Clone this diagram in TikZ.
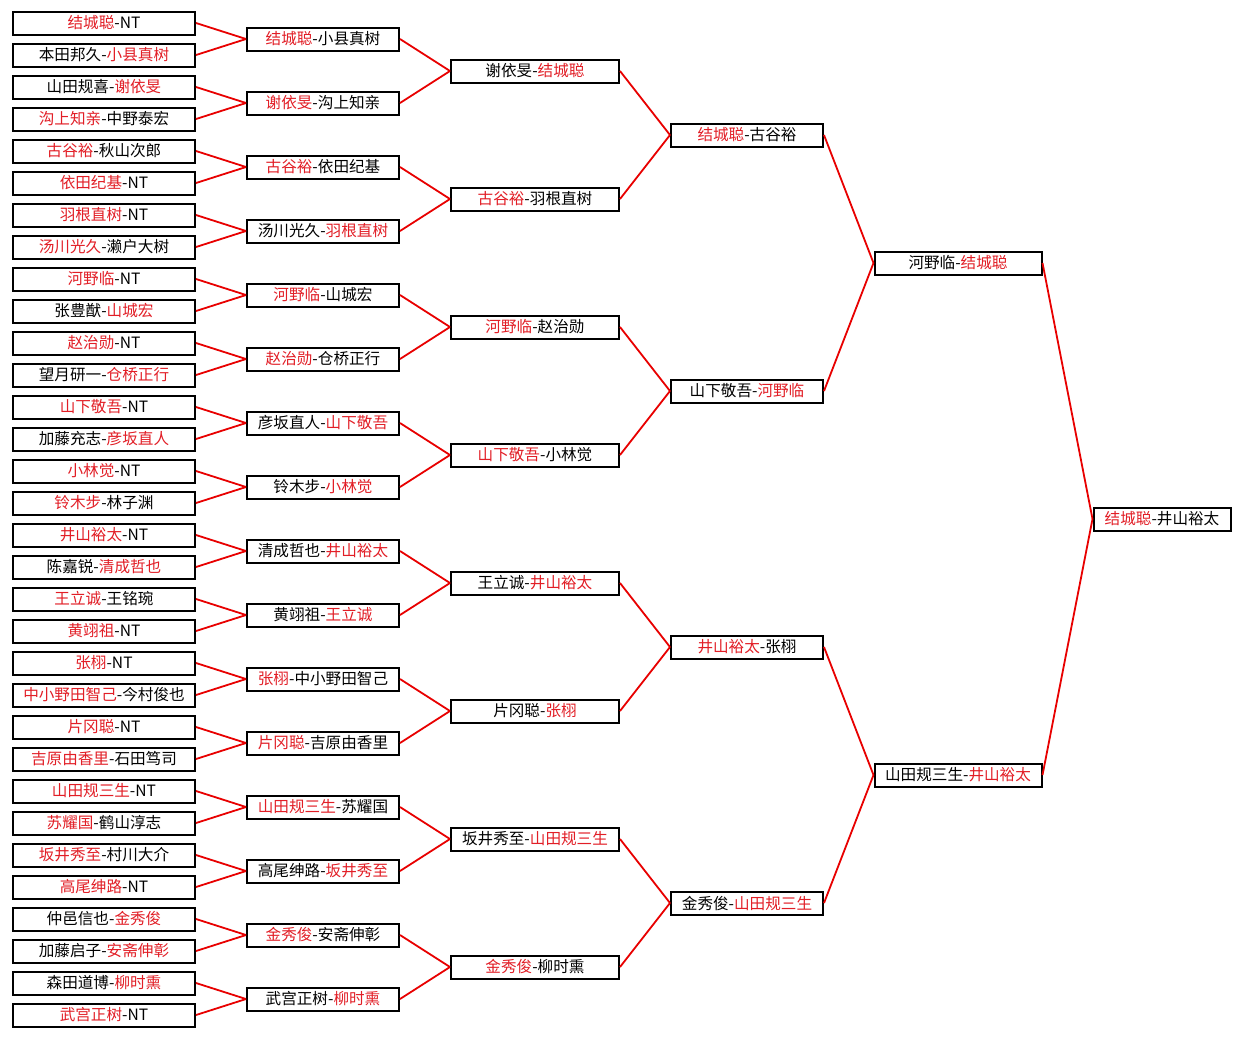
\documentclass[tikz,border=0pt]{standalone}
\usepackage{fontspec}
\newfontfamily\cjk{Noto Sans CJK SC}
\usepackage{xcolor}
\usetikzlibrary{positioning}

\definecolor{winred}{RGB}{226,30,38}
\definecolor{linkred}{RGB}{232,0,0}
\newcommand{\w}[1]{\textcolor{winred}{#1}}

\begin{document}
\begin{tikzpicture}[
  x=1pt, y=-1pt,
  font=\cjk\fontsize{15.6}{18}\selectfont,
  box/.style={draw=black, line width=2pt, fill=white, inner sep=0pt, minimum height=23pt, text=black},
  abox/.style={box, minimum width=182pt},
  bbox/.style={box, minimum width=152pt},
  cbox/.style={box, minimum width=168pt},
  dbox/.style={box, minimum width=152pt},
  ebox/.style={box, minimum width=167pt},
  fbox/.style={box, minimum width=137pt},
  link/.style={draw=linkred, line width=1.8pt}
]
\useasboundingbox[fill=white] (0,0) rectangle (1242,1037);

% first round
\node[abox] (a1)  at (104,23)   {\w{结城聪}-NT};
\node[abox] (a2)  at (104,55)   {本田邦久-\w{小县真树}};
\node[abox] (a3)  at (104,87)   {山田规喜-\w{谢依旻}};
\node[abox] (a4)  at (104,119)  {\w{沟上知亲}-中野泰宏};
\node[abox] (a5)  at (104,151)  {\w{古谷裕}-秋山次郎};
\node[abox] (a6)  at (104,183)  {\w{依田纪基}-NT};
\node[abox] (a7)  at (104,215)  {\w{羽根直树}-NT};
\node[abox] (a8)  at (104,247)  {\w{汤川光久}-濑户大树};
\node[abox] (a9)  at (104,279)  {\w{河野临}-NT};
\node[abox] (a10) at (104,311)  {张豊猷-\w{山城宏}};
\node[abox] (a11) at (104,343)  {\w{赵治勋}-NT};
\node[abox] (a12) at (104,375)  {望月研一-\w{仓桥正行}};
\node[abox] (a13) at (104,407)  {\w{山下敬吾}-NT};
\node[abox] (a14) at (104,439)  {加藤充志-\w{彦坂直人}};
\node[abox] (a15) at (104,471)  {\w{小林觉}-NT};
\node[abox] (a16) at (104,503)  {\w{铃木步}-林子渊};
\node[abox] (a17) at (104,535)  {\w{井山裕太}-NT};
\node[abox] (a18) at (104,567)  {陈嘉锐-\w{清成哲也}};
\node[abox] (a19) at (104,599)  {\w{王立诚}-王铭琬};
\node[abox] (a20) at (104,631)  {\w{黄翊祖}-NT};
\node[abox] (a21) at (104,663)  {\w{张栩}-NT};
\node[abox] (a22) at (104,695)  {\w{中小野田智己}-今村俊也};
\node[abox] (a23) at (104,727)  {\w{片冈聪}-NT};
\node[abox] (a24) at (104,759)  {\w{吉原由香里}-石田笃司};
\node[abox] (a25) at (104,791)  {\w{山田规三生}-NT};
\node[abox] (a26) at (104,823)  {\w{苏耀国}-鹤山淳志};
\node[abox] (a27) at (104,855)  {\w{坂井秀至}-村川大介};
\node[abox] (a28) at (104,887)  {\w{高尾绅路}-NT};
\node[abox] (a29) at (104,919)  {仲邑信也-\w{金秀俊}};
\node[abox] (a30) at (104,951)  {加藤启子-\w{安斋伸彰}};
\node[abox] (a31) at (104,983)  {森田道博-\w{柳时熏}};
\node[abox] (a32) at (104,1015) {\w{武宫正树}-NT};

% second round
\node[bbox] (b1)  at (323,39)  {\w{结城聪}-小县真树};
\node[bbox] (b2)  at (323,103) {\w{谢依旻}-沟上知亲};
\node[bbox] (b3)  at (323,167) {\w{古谷裕}-依田纪基};
\node[bbox] (b4)  at (323,231) {汤川光久-\w{羽根直树}};
\node[bbox] (b5)  at (323,295) {\w{河野临}-山城宏};
\node[bbox] (b6)  at (323,359) {\w{赵治勋}-仓桥正行};
\node[bbox] (b7)  at (323,423) {彦坂直人-\w{山下敬吾}};
\node[bbox] (b8)  at (323,487) {铃木步-\w{小林觉}};
\node[bbox] (b9)  at (323,551) {清成哲也-\w{井山裕太}};
\node[bbox] (b10) at (323,615) {黄翊祖-\w{王立诚}};
\node[bbox] (b11) at (323,679) {\w{张栩}-中小野田智己};
\node[bbox] (b12) at (323,743) {\w{片冈聪}-吉原由香里};
\node[bbox] (b13) at (323,807) {\w{山田规三生}-苏耀国};
\node[bbox] (b14) at (323,871) {高尾绅路-\w{坂井秀至}};
\node[bbox] (b15) at (323,935) {\w{金秀俊}-安斋伸彰};
\node[bbox] (b16) at (323,999) {武宫正树-\w{柳时熏}};

% third round
\node[cbox] (c1) at (535,71)  {谢依旻-\w{结城聪}};
\node[cbox] (c2) at (535,199) {\w{古谷裕}-羽根直树};
\node[cbox] (c3) at (535,327) {\w{河野临}-赵治勋};
\node[cbox] (c4) at (535,455) {\w{山下敬吾}-小林觉};
\node[cbox] (c5) at (535,583) {王立诚-\w{井山裕太}};
\node[cbox] (c6) at (535,711) {片冈聪-\w{张栩}};
\node[cbox] (c7) at (535,839) {坂井秀至-\w{山田规三生}};
\node[cbox] (c8) at (535,967) {\w{金秀俊}-柳时熏};

% quarter finals
\node[dbox] (d1) at (747,135) {\w{结城聪}-古谷裕};
\node[dbox] (d2) at (747,391) {山下敬吾-\w{河野临}};
\node[dbox] (d3) at (747,647) {\w{井山裕太}-张栩};
\node[dbox] (d4) at (747,903) {金秀俊-\w{山田规三生}};

% semi finals
\node[ebox] (e1) at (958,263) {河野临-\w{结城聪}};
\node[ebox] (e2) at (958,775) {山田规三生-\w{井山裕太}};

% final
\node[fbox] (f) at (1162,519) {\w{结城聪}-井山裕太};

% connectors
\foreach \i in {1,...,16} {
  \pgfmathtruncatemacro\p{2*\i-1}
  \pgfmathtruncatemacro\q{2*\i}
  \draw[link] (a\p.east) -- (b\i.west);
  \draw[link] (a\q.east) -- (b\i.west);
}
\foreach \i in {1,...,8} {
  \pgfmathtruncatemacro\p{2*\i-1}
  \pgfmathtruncatemacro\q{2*\i}
  \draw[link] (b\p.east) -- (c\i.west);
  \draw[link] (b\q.east) -- (c\i.west);
}
\foreach \i in {1,...,4} {
  \pgfmathtruncatemacro\p{2*\i-1}
  \pgfmathtruncatemacro\q{2*\i}
  \draw[link] (c\p.east) -- (d\i.west);
  \draw[link] (c\q.east) -- (d\i.west);
}
\draw[link] (d1.east) -- (e1.west);
\draw[link] (d2.east) -- (e1.west);
\draw[link] (d3.east) -- (e2.west);
\draw[link] (d4.east) -- (e2.west);
\draw[link] (e1.east) -- (f.west);
\draw[link] (e2.east) -- (f.west);
\end{tikzpicture}
\end{document}
